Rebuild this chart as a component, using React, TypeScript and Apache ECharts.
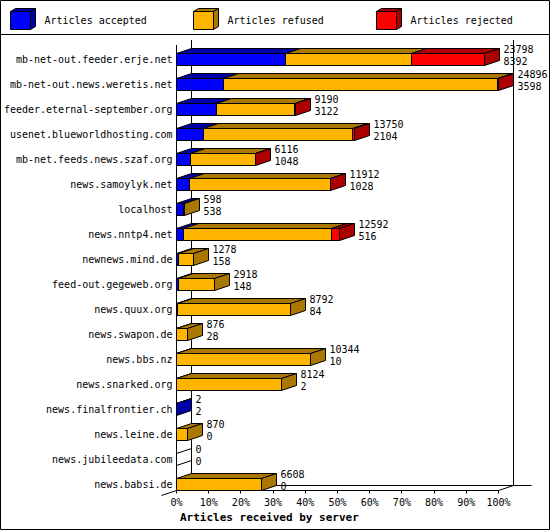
import { useEffect, useRef } from "react";
import * as echarts from "echarts";

const categories = [
  "mb-net-out.feeder.erje.net",
  "mb-net-out.news.weretis.net",
  "feeder.eternal-september.org",
  "usenet.blueworldhosting.com",
  "mb-net.feeds.news.szaf.org",
  "news.samoylyk.net",
  "localhost",
  "news.nntp4.net",
  "newnews.mind.de",
  "feed-out.gegeweb.org",
  "news.quux.org",
  "news.swapon.de",
  "news.bbs.nz",
  "news.snarked.org",
  "news.finalfrontier.ch",
  "news.leine.de",
  "news.jubileedata.com",
  "news.babsi.de",
];
const accepted = [8392, 3598, 3122, 2104, 1048, 1028, 538, 516, 158, 148, 84, 28, 10, 2, 2, 0, 0, 0];
const refused = [9770, 21238, 6013, 11496, 5028, 10844, 60, 11456, 1120, 2770, 8708, 848, 10334, 8122, 0, 870, 0, 6608];
const rejected = [5636, 60, 55, 150, 40, 40, 0, 620, 0, 0, 0, 0, 0, 0, 0, 0, 0, 0];
const seriesNames = ["Articles accepted", "Articles refused", "Articles rejected"];
const frontColors = ["#0000ff", "#ffb400", "#ff0000"];
const darkColors = ["#0000a8", "#aa7800", "#ac0000"];
const xLabel = "Articles received by server";

const FONT_FAMILY = "'DejaVu Sans Mono', monospace";
const FONT = "10px " + FONT_FAMILY;
const DX = 15;
const DY = -5;

const px = (v: number) => Math.round(v - 0.5) + 0.5;

export default function App() {
  const ref = useRef<HTMLDivElement>(null);
  useEffect(() => {
    if (!ref.current) return;
    const chart = echarts.init(ref.current, null, { renderer: "svg" });
    const totals = categories.map((_, i) => accepted[i] + refused[i] + rejected[i]);
    const maxTotal = Math.max(...totals);
    const pct = (v: number) => (v / maxTotal) * 100;
    const barData = categories.map((_, i) => [
      i,
      pct(accepted[i]),
      pct(refused[i]),
      pct(rejected[i]),
      totals[i],
      accepted[i],
    ]);

    const line = (x1: number, y1: number, x2: number, y2: number) => ({
      type: "line",
      shape: { x1, y1, x2, y2 },
      style: { stroke: "#000", lineWidth: 1 },
    });

    const renderFrame = (params: any, api: any) => {
      const half = Math.round(api.size([0, 1])[1] * 0.24);
      const y0 = api.coord([0, 0])[1];
      const yN = api.coord([0, categories.length - 1])[1];
      const X = (p: number) => px(api.coord([p, 0])[0]);
      const x0 = X(0);
      const x100 = X(100);
      const frontFloor = yN + half;
      const backFloor = frontFloor + DY;
      const frontTop = y0 - 14.5;
      const backTop = frontTop + DY;
      const children: any[] = [];
      children.push(line(x0 + DX, backTop, x0 + DX, backFloor));
      children.push(line(x100 + DX, backTop, x100 + DX, backFloor));
      children.push(line(x0 + DX, backFloor, x100 + DX + 18, backFloor));
      children.push(line(x0, frontTop, x0, frontFloor + 3));
      children.push(line(x0, frontFloor, x100, frontFloor));
      children.push(line(x0, frontFloor, x0 - DX, frontFloor - DY));
      children.push(line(x100, frontFloor, x100 + DX, backFloor));
      for (let p = 10; p <= 100; p += 10) {
        const xp = X(p);
        children.push(line(xp, frontFloor, xp, frontFloor + 3));
      }
      return { type: "group", children };
    };

    const renderBars = (params: any, api: any) => {
      const i = api.value(0);
      const vals = [api.value(1), api.value(2), api.value(3)];
      const total = api.value(4);
      const acc = api.value(5);
      const yc = api.coord([0, i])[1];
      const half = Math.round(api.size([0, 1])[1] * 0.24);
      const top = yc - half;
      const bottom = yc + half;
      const xs: number[] = [px(api.coord([0, i])[0])];
      let cum = 0;
      for (let k = 0; k < 3; k++) {
        cum += vals[k];
        xs.push(px(api.coord([cum, i])[0]));
      }
      const children: any[] = [];
      let last = -1;
      for (let k = 0; k < 3; k++) {
        if (vals[k] <= 0) continue;
        last = k;
        const a = xs[k];
        const b = xs[k + 1];
        children.push({
          type: "polygon",
          shape: { points: [[a, top], [b, top], [b, bottom], [a, bottom]] },
          style: { fill: frontColors[k], stroke: "#000", lineWidth: 1 },
        });
        children.push({
          type: "polygon",
          shape: { points: [[a, top], [b, top], [b + DX, top + DY], [a + DX, top + DY]] },
          style: { fill: darkColors[k], stroke: "#000", lineWidth: 1 },
        });
      }
      const xe = last >= 0 ? xs[last + 1] : xs[0];
      children.push({
        type: "polygon",
        shape: { points: [[xe, top], [xe + DX, top + DY], [xe + DX, bottom + DY], [xe, bottom]] },
        style: { fill: last >= 0 ? darkColors[last] : "#fff", stroke: "#000", lineWidth: 1 },
      });
      children.push({
        type: "text",
        style: { text: String(total), x: xe + DX + 4, y: yc - 10, font: FONT, fill: "#000", align: "left", verticalAlign: "middle" },
      });
      children.push({
        type: "text",
        style: { text: String(acc), x: xe + DX + 4, y: yc + 1.5, font: FONT, fill: "#000", align: "left", verticalAlign: "middle" },
      });
      return { type: "group", children };
    };

    const graphics: any[] = [
      { type: "rect", shape: { x: 0.5, y: 0.5, width: 549, height: 529 }, style: { fill: "none", stroke: "#000", lineWidth: 1 }, z: 100 },
      { type: "line", shape: { x1: 0, y1: 34.5, x2: 550, y2: 34.5 }, style: { stroke: "#000", lineWidth: 1 }, z: 100 },
      {
        type: "text",
        x: 180,
        y: 517.5,
        style: { text: xLabel, font: "bold 11px " + FONT_FAMILY, fill: "#000", align: "left", verticalAlign: "middle" },
        z: 100,
      },
    ];
    seriesNames.forEach((name, k) => {
      const bx = 10.5 + 183 * k;
      const t = 11.5;
      const b = 29.5;
      const w = 20;
      const ddx = 5;
      const ddy = -3;
      graphics.push({
        type: "polygon",
        shape: { points: [[bx, t], [bx + w, t], [bx + w, b], [bx, b]] },
        style: { fill: frontColors[k], stroke: "#000", lineWidth: 1 },
        z: 100,
      });
      graphics.push({
        type: "polygon",
        shape: { points: [[bx, t], [bx + w, t], [bx + w + ddx, t + ddy], [bx + ddx, t + ddy]] },
        style: { fill: darkColors[k], stroke: "#000", lineWidth: 1 },
        z: 100,
      });
      graphics.push({
        type: "polygon",
        shape: { points: [[bx + w, t], [bx + w + ddx, t + ddy], [bx + w + ddx, b + ddy], [bx + w, b]] },
        style: { fill: darkColors[k], stroke: "#000", lineWidth: 1 },
        z: 100,
      });
      graphics.push({
        type: "text",
        x: bx + 34,
        y: 20.5,
        style: { text: name, font: FONT, fill: "#000", align: "left", verticalAlign: "middle" },
        z: 100,
      });
    });

    chart.setOption({
      animation: false,
      backgroundColor: "#fff",
      grid: { left: 176.5, top: 47, width: 322, height: 450, containLabel: false, outerBoundsMode: "none" },
      xAxis: {
        type: "value",
        min: 0,
        max: 100,
        interval: 10,
        axisLine: { show: false },
        axisTick: { show: false },
        splitLine: { show: false },
        axisLabel: {
          formatter: "{value}%",
          fontFamily: FONT_FAMILY,
          fontSize: 10,
          color: "#000",
          margin: 5,
          verticalAlign: "middle",
        },
      },
      yAxis: {
        type: "category",
        data: categories,
        inverse: true,
        axisLine: { show: false },
        axisTick: { show: false },
        splitLine: { show: false },
        axisLabel: { fontFamily: FONT_FAMILY, fontSize: 10, color: "#000", margin: 4 },
      },
      series: [
        { type: "custom", name: "frame", renderItem: renderFrame, data: [[0, 0]], encode: { x: 0, y: 1 }, clip: false, silent: true },
        { type: "custom", name: "bars", renderItem: renderBars, data: barData, encode: { x: 1, y: 0 }, clip: false, silent: true },
      ],
      graphic: graphics,
    });
    return () => chart.dispose();
  }, []);
  return <div ref={ref} style={{ position: "fixed", left: 0, top: 0, width: 550, height: 530 }} />;
}
